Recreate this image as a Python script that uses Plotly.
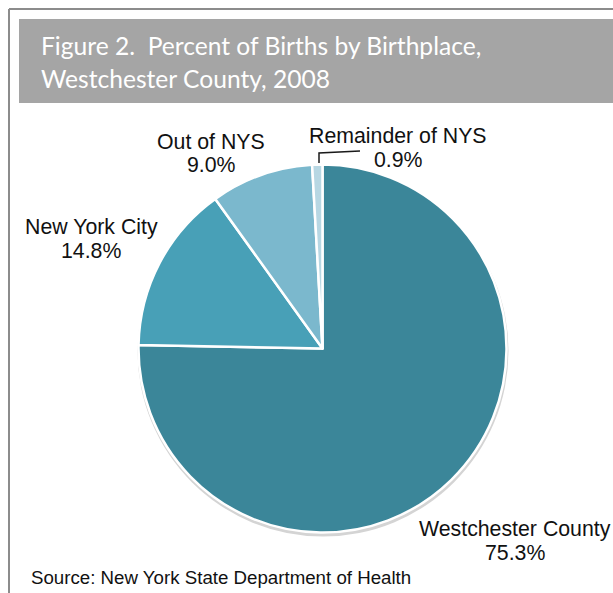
import plotly.graph_objects as go

W, H = 613, 593

# data
places = ['Westchester County', 'New York City', 'Out of NYS', 'Remainder of NYS']
pct = [75.3, 14.8, 9.0, 0.9]
colors = ['#3b8699', '#48a0b7', '#7bb8cd', '#b7d7e3']

title_lines = ['Figure 2.  Percent of Births by Birthplace,', 'Westchester County, 2008']
source = 'Source: New York State Department of Health'

# label line centres in pixels: x, y of name line, y of percent line
label_pos = [(515, 529, 553), (91, 226.5, 250.5), (211, 141.5, 165), (398, 136.5, 159.5)]


def px(x):
    return x / W


def py(y):
    return 1 - y / H


cx, cy, r = 322.5, 348.5, 184

fig = go.Figure()
fig.add_trace(go.Pie(
    labels=places, values=pct, sort=False, direction='clockwise', rotation=0,
    marker=dict(colors=colors, line=dict(color='white', width=2.5)),
    textinfo='none', hoverinfo='label+percent', showlegend=False,
    domain=dict(x=[px(cx - r), px(cx + r)], y=[py(cy + r), py(cy - r)]),
))

shapes = [
    # outer frame
    dict(type='line', x0=px(9), x1=px(9), y0=0, y1=py(9), line=dict(color='#8c8c8c', width=2)),
    dict(type='line', x0=px(9), x1=1, y0=py(9), y1=py(9), line=dict(color='#8c8c8c', width=2)),
    # title box
    dict(type='rect', x0=px(19), x1=1, y0=py(103), y1=py(19), fillcolor='#a5a5a5', line=dict(width=0), layer='below'),
    # soft shadow under pie
    dict(type='circle', x0=px(cx - r - 1), x1=px(cx + r + 2), y0=py(cy + r + 4), y1=py(cy - r + 1),
         fillcolor='#d4d4d4', line=dict(width=0), layer='below'),
    # leader line for small slice
    dict(type='path', path=f'M {px(319)} {py(163)} L {px(319)} {py(153)} L {px(360)} {py(151)}',
         line=dict(color='#1a1a1a', width=1.5)),
]

annotations = []
for i, line in enumerate(title_lines):
    annotations.append(dict(
        x=px(39), y=py(45.5 + i * 33), xref='paper', yref='paper', xanchor='left', yanchor='middle',
        text=line, showarrow=False, font=dict(family='Lato', size=24.6, color='white')))
for name, v, (lx, ly1, ly2) in zip(places, pct, label_pos):
    for txt, ly in ((name, ly1), (f'{v:.1f}%', ly2)):
        annotations.append(dict(
            x=px(lx), y=py(ly), xref='paper', yref='paper', xanchor='center', yanchor='middle',
            text=txt, showarrow=False,
            font=dict(family='Arial', size=21.3, color='#111111')))
annotations.append(dict(
    x=px(29), y=py(577), xref='paper', yref='paper', xanchor='left', yanchor='middle',
    text=source, showarrow=False, font=dict(family='Arial', size=18.7, color='#111111')))

fig.update_layout(
    width=W, height=H, margin=dict(l=0, r=0, t=0, b=0),
    paper_bgcolor='white', plot_bgcolor='white',
    shapes=shapes, annotations=annotations,
)

fig.write_html('out.html', config={'displayModeBar': False},
               post_script="document.body.style.margin='0';")
